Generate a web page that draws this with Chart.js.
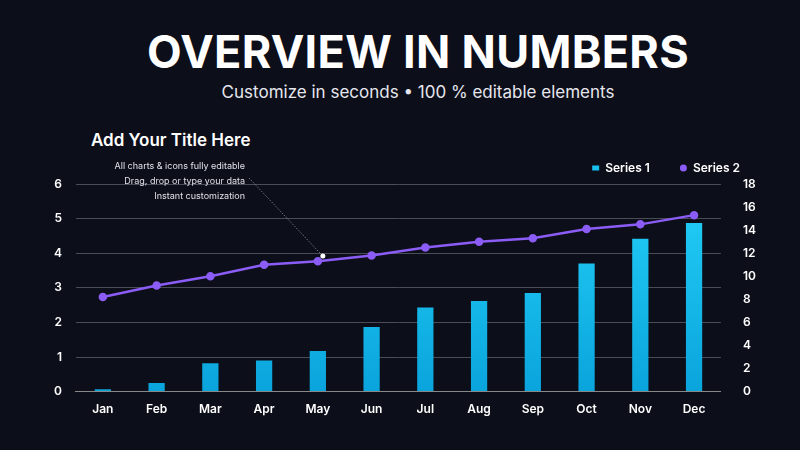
<!DOCTYPE html>
<html>
<head>
<meta charset="utf-8">
<script src="https://cdn.jsdelivr.net/npm/chart.js@4"></script>
<style>
  body { margin: 0; background: #0c0e19; width: 800px; height: 450px; overflow: hidden; font-family: Inter, sans-serif; color: #fff; }
  h1 { position: absolute; top: 24px; left: 0; width: 836px; text-align: center; margin: 0; font-size: 45px; font-weight: 700; letter-spacing: 0.3px; }
  .sub { position: absolute; top: 82px; left: 0; width: 836px; text-align: center; font-size: 17px; color: #e6e6ee; }
  .ctitle { position: absolute; top: 130px; left: 91px; font-size: 17px; font-weight: 600; }
  .wrap { position: absolute; left: 40px; top: 112px; width: 760px; height: 338px; }
</style>
</head>
<body>
<h1>OVERVIEW IN NUMBERS</h1>
<div class="sub">Customize in seconds • 100 % editable elements</div>
<div class="ctitle">Add Your Title Here</div>
<div class="wrap"><canvas id="c"></canvas></div>
<script>
const months = ['Jan','Feb','Mar','Apr','May','Jun','Jul','Aug','Sep','Oct','Nov','Dec'];
const series1 = [0.07, 0.25, 0.82, 0.9, 1.17, 1.87, 2.43, 2.62, 2.85, 3.7, 4.42, 4.87];
const series2 = [8.2, 9.2, 10.0, 11.0, 11.3, 11.8, 12.5, 13.0, 13.3, 14.1, 14.5, 15.3];
const notes = ['All charts & icons fully editable', 'Drag, drop or type your data', 'Instant customization'];

const annotate = {
  id: 'annotate',
  afterDatasetsDraw(chart) {
    const ctx = chart.ctx;
    const x = chart.scales.x.getPixelForValue(4) + 5;
    const y = chart.scales.y2.getPixelForValue(11.75);
    ctx.save();
    ctx.font = '9px Inter';
    ctx.fillStyle = '#e0e0e8';
    ctx.textAlign = 'right';
    notes.forEach((t, i) => ctx.fillText(t, 205, 54 + i * 15));
    ctx.strokeStyle = '#bbbbc4';
    ctx.lineWidth = 0.6;
    ctx.setLineDash([1.5, 1.5]);
    ctx.beginPath();
    ctx.moveTo(209, 66);
    ctx.lineTo(x, y);
    ctx.stroke();
    ctx.setLineDash([]);
    ctx.fillStyle = '#fff';
    ctx.beginPath();
    ctx.arc(x, y, 2.5, 0, Math.PI * 2);
    ctx.fill();
    ctx.restore();
  }
};

new Chart(document.getElementById('c'), {
  type: 'bar',
  data: {
    labels: months,
    datasets: [{
      label: 'Series 1',
      data: series1,
      yAxisID: 'y',
      order: 2,
      barPercentage: 0.55,
      categoryPercentage: 0.55,
      backgroundColor: (c) => {
        const a = c.chart.chartArea;
        if (!a) return '#14b8ec';
        const g = c.chart.ctx.createLinearGradient(0, a.top, 0, a.bottom);
        g.addColorStop(0, '#24d0f8');
        g.addColorStop(1, '#0aa4dc');
        return g;
      }
    }, {
      type: 'line',
      label: 'Series 2',
      data: series2,
      yAxisID: 'y2',
      order: 1,
      borderColor: '#8b5cf6',
      backgroundColor: '#8b5cf6',
      borderWidth: 2.5,
      pointRadius: 3,
      pointStyle: 'circle'
    }]
  },
  options: {
    responsive: true,
    maintainAspectRatio: false,
    animation: false,
    layout: { padding: { right: 30, top: 20, bottom: 30 } },
    plugins: {
      legend: {
        align: 'end',
        labels: {
          color: '#fff', font: { family: 'Inter', size: 12, weight: '600' },
          usePointStyle: true, pointStyleWidth: 7, boxHeight: 5, padding: 30,
          generateLabels: (chart) => chart.data.datasets.map((d, i) => ({
            text: d.label, fillStyle: i === 0 ? '#18c0f0' : '#8b5cf6', strokeStyle: 'transparent',
            pointStyle: i === 0 ? 'rect' : 'circle', fontColor: '#fff', datasetIndex: i
          }))
        }
      },
      tooltip: { enabled: false }
    },
    scales: {
      x: {
        grid: { display: false },
        border: { color: '#888' },
        ticks: { color: '#fff', font: { family: 'Inter', size: 12, weight: '600' } }
      },
      y: {
        min: 0, max: 6,
        ticks: { stepSize: 1, color: '#fff', padding: 14, font: { family: 'Inter', size: 12, weight: '600' } },
        grid: { color: '#4a4c58', lineWidth: 1, drawTicks: false },
        border: { display: false }
      },
      y2: {
        position: 'right',
        min: 0, max: 18,
        ticks: { stepSize: 2, color: '#fff', padding: 14, font: { family: 'Inter', size: 12, weight: '600' } },
        grid: { display: false },
        border: { display: false }
      }
    }
  },
  plugins: [annotate]
});
</script>
</body>
</html>
